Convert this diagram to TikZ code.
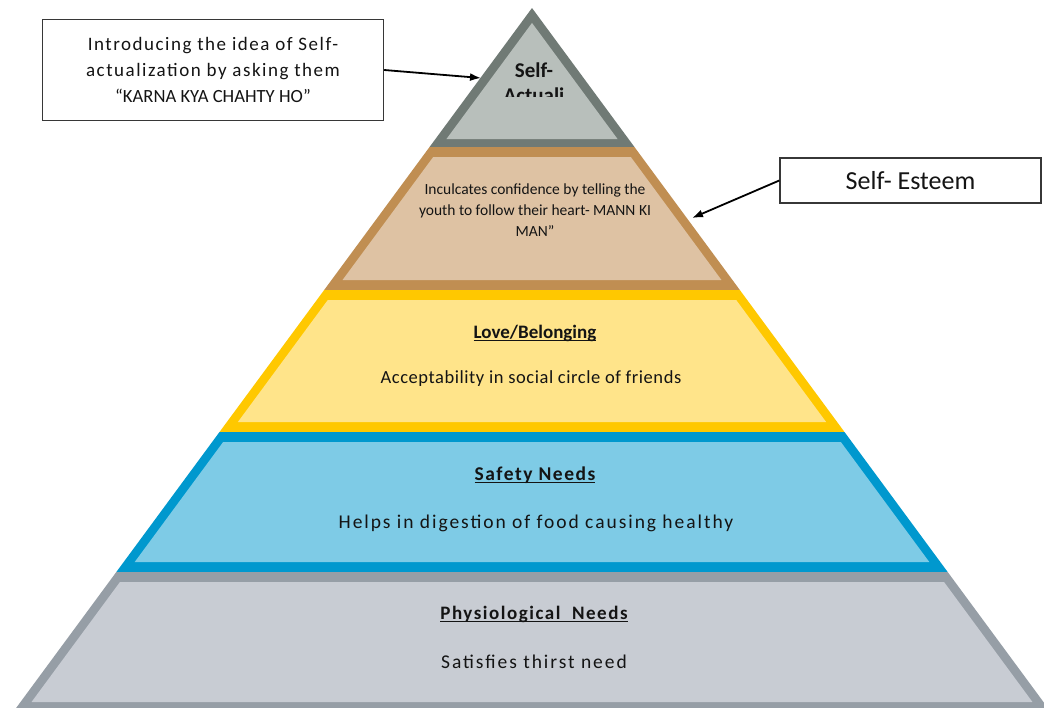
\documentclass[tikz,border=0pt]{standalone}
\usepackage{fontspec}
\setmainfont{Carlito}
\newfontfamily\spA[LetterSpace=8]{Carlito}
\newfontfamily\spB[LetterSpace=8]{Carlito}
\newfontfamily\spD[LetterSpace=10]{Carlito}
\newfontfamily\spC[LetterSpace=3]{Carlito}
\usetikzlibrary{arrows.meta}

\definecolor{topB}{RGB}{112,122,117}
\definecolor{topF}{RGB}{184,191,187}
\definecolor{tanB}{RGB}{192,142,82}
\definecolor{tanF}{RGB}{222,194,163}
\definecolor{yelB}{RGB}{255,200,0}
\definecolor{yelF}{RGB}{255,228,138}
\definecolor{bluB}{RGB}{0,152,206}
\definecolor{bluF}{RGB}{126,203,230}
\definecolor{gryB}{RGB}{150,158,166}
\definecolor{gryF}{RGB}{200,204,211}
\definecolor{ink}{RGB}{20,20,20}
\definecolor{boxline}{RGB}{55,55,55}

% underlined tier heading with a heavier rule
\newcommand\hdline[1]{\setbox0=\hbox{#1}\rlap{\rule[-2.8pt]{\wd0}{1.3pt}}\box0}

\tikzset{
  callout/.style={draw=boxline, line width=1.4pt, fill=white, text=ink, inner sep=0pt},
  pointer/.style={draw=black, line width=1.8pt, -{Latex[length=11pt,width=8pt]}},
  tiertext/.style={text=ink, anchor=base, inner sep=0pt},
}

\begin{document}
\begin{tikzpicture}[x=1pt,y=-1pt]
\useasboundingbox (0,0) rectangle (1044,707);
\clip (0,0) rectangle (1044,707);
\fill[white] (0,0) rectangle (1044,707);

% pyramid geometry: apex at (532,8), half-width grows by \sl per unit of depth
\def\cx{532}
\def\sl{0.737}

% apex triangle
\pgfmathsetmacro\wb{\sl*(147-8)}
\fill[topB] (\cx,8) -- ({\cx+\wb},147) -- ({\cx-\wb},147) -- cycle;
\pgfmathsetmacro\ib{\sl*(139-8)-11}
\pgfmathsetmacro\ia{8+11/\sl}
\fill[topF] (\cx,\ia) -- ({\cx+\ib},139) -- ({\cx-\ib},139) -- cycle;

% lower tiers: outer band in the border colour, inner face in the light colour
\foreach \ya/\yb/\bc/\fc in {147/290/tanB/tanF, 290/432/yelB/yelF, 432/572/bluB/bluF, 572/712/gryB/gryF}{
  \pgfmathsetmacro\wa{\sl*(\ya-8)}
  \pgfmathsetmacro\wb{\sl*(\yb-8)}
  \fill[\bc] ({\cx-\wa},\ya) -- ({\cx+\wa},\ya) -- ({\cx+\wb},\yb) -- ({\cx-\wb},\yb) -- cycle;
  \pgfmathsetmacro\ya{\ya+10}
  \pgfmathsetmacro\yb{\yb-10}
  \pgfmathsetmacro\ia{\sl*(\ya-8)-11}
  \pgfmathsetmacro\ib{\sl*(\yb-8)-11}
  \fill[\fc] ({\cx-\ia},\ya) -- ({\cx+\ia},\ya) -- ({\cx+\ib},\yb) -- ({\cx-\ib},\yb) -- cycle;
}

% apex label, cut off by its text frame
\node[tiertext, font=\fontsize{21}{25}\selectfont\bfseries] (selfa) at (534,77) {Self-};
\begin{scope}
  \clip (470,80) rectangle (600,96.5);
  \node[tiertext, font=\fontsize{21}{25}\selectfont\bfseries] (actuali) at (534,102) {Actuali};
\end{scope}

% esteem tier
\node[text=ink, align=center, inner sep=0pt, font=\fontsize{15.5}{21}\selectfont] (esteem) at (535,210)
  {Inculcates confidence by telling the\\youth to follow their heart- MANN KI\\MAN”};

% love / belonging tier
\node[tiertext, font=\fontsize{19}{23}\selectfont\bfseries] (loveh) at (535,338) {\hdline{Love/Belonging}};
\node[tiertext, font=\fontsize{18.5}{23}\selectfont\spC] (lovet) at (531,383) {Acceptability in social circle of friends};

% safety tier
\node[tiertext, font=\fontsize{19.5}{23}\selectfont\spB\bfseries] (safeh) at (535,480) {\hdline{Safety Needs}};
\node[tiertext, font=\fontsize{19.5}{23}\selectfont\spD] (safet) at (536,528) {Helps in digestion of food causing healthy};

% physiological tier
\node[tiertext, font=\fontsize{19}{23}\selectfont\spB\bfseries] (physh) at (534,619) {\hdline{Physiological\ \ Needs}};
\node[tiertext, font=\fontsize{19.5}{23}\selectfont\spD] (physt) at (534,668) {Satisfies thirst need};

% callout boxes
\node[callout, minimum width=341pt, minimum height=101pt, align=center,
      font=\fontsize{19}{26}\selectfont] (boxA) at (213,70)
  {\spA Introducing the idea of Self-\\\spA actualization by asking them\\\normalfont\fontsize{18.6}{26}\selectfont “KARNA KYA CHAHTY HO”};
\node[callout, minimum width=261pt, minimum height=45pt,
      font=\fontsize{26}{30}\selectfont] (boxB) at (910.5,180.5) {Self- Esteem};

% arrow targets on the pyramid edges
\coordinate (tipA) at (481,78);
\coordinate (tipB) at (692,218);
\draw[pointer] (boxA.east) -- (tipA);
\draw[pointer] (boxB.west) -- (tipB);
\end{tikzpicture}
\end{document}
